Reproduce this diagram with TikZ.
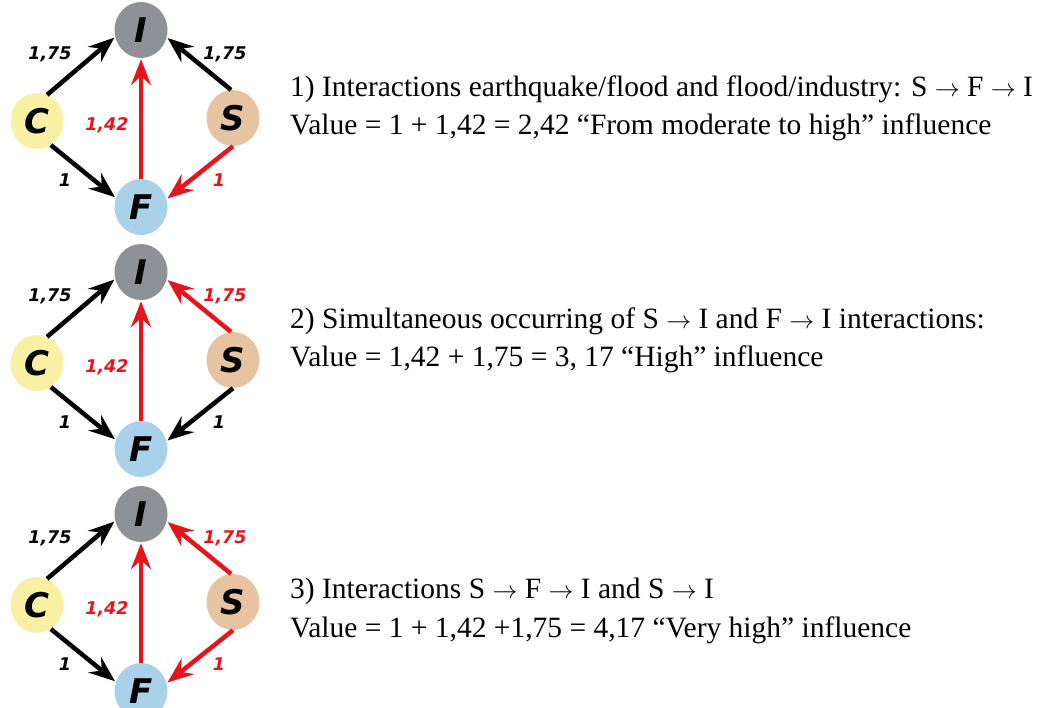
\documentclass[tikz,border=0pt]{standalone}
\usepackage{fontspec}
\setmainfont{Liberation Serif}
\newfontfamily\grfont{DejaVu Sans}
\usepackage{tikz}
\usetikzlibrary{arrows.meta, shapes.geometric}

\definecolor{colI}{HTML}{8E9196}
\definecolor{colC}{HTML}{F8F0A2}
\definecolor{colS}{HTML}{E6C4A1}
\definecolor{colF}{HTML}{A9D2EA}
\definecolor{arrred}{HTML}{E8141C}

\newcommand{\ra}{$\rightarrow$}

\tikzset{
  vtx/.style={ellipse, minimum width=53pt, minimum height=56pt, inner sep=0pt,
    font=\grfont\bfseries\itshape\fontsize{34}{34}\selectfont},
  lnk/.style={line width=4.5pt, -{Stealth[length=26pt,width=20pt,inset=9pt]},
    shorten >=1pt},
  wt/.style={font=\grfont\bfseries\itshape\fontsize{17.5}{17.5}\selectfont},
  txt/.style={anchor=base west, inner sep=0pt, font=\fontsize{29.5}{30}\selectfont}
}

\begin{document}
\begin{tikzpicture}[x=1pt,y=-1pt]
  \useasboundingbox (0,0) rectangle (1040,707);
  \clip (0,0) rectangle (1040,707);

  % three variants of the graph
  \foreach \k/\dy/\cSI/\cSF in {1/0/black/arrred, 2/242/arrred/black, 3/484/arrred/arrred} {
    \node[vtx, fill=colI] (I\k) at (141,30+\dy) {I};
    \node[vtx, fill=colC] (C\k) at (37,121+\dy) {C};
    \node[vtx, fill=colS] (S\k) at (233,118+\dy) {S};
    \node[vtx, fill=colF] (F\k) at (141,207+\dy) {F};

    \draw[lnk] (C\k.69) -- (I\k.195);
    \draw[lnk] (C\k.-60) -- (F\k.160);
    \draw[lnk, arrred] (F\k.90) -- (I\k.270);
    \draw[lnk, \cSI] (S\k.94) -- (I\k.-16);
    \draw[lnk, \cSF] (S\k.-90) -- (F\k.17);

    \node[wt] at (50,54+\dy) {1,75};
    \node[wt, text=\cSI] at (225,54+\dy) {1,75};
    \node[wt, text=arrred] at (107,125+\dy) {1,42};
    \node[wt] at (65,180+\dy) {1};
    \node[wt, text=\cSF] at (219,180+\dy) {1};
  }

  % explanations
  \node[txt] (t1a) at (290,96) {1) Interactions earthquake/flood and flood/industry: S \ra{} F \ra{} I};
  \node[txt] (t1b) at (290,134) {Value = 1 + 1,42 = 2,42 “From moderate to high” influence};
  \node[txt] (t2a) at (290,328) {2) Simultaneous occurring of S \ra{} I and F \ra{} I interactions:};
  \node[txt] (t2b) at (290,366) {Value = 1,42 + 1,75 = 3, 17 “High” influence};
  \node[txt] (t3a) at (290,598) {3) Interactions S \ra{} F \ra{} I and S \ra{} I};
  \node[txt] (t3b) at (290,637) {Value = 1 + 1,42 +1,75 = 4,17 “Very high” influence};
\end{tikzpicture}
\end{document}
